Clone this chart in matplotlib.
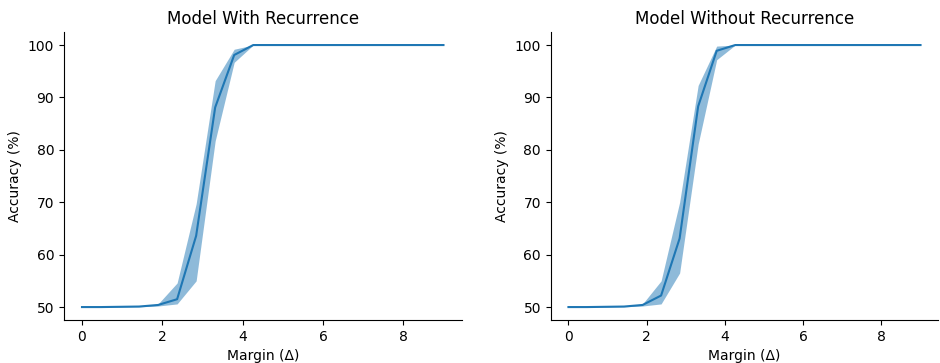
import numpy as np
import matplotlib.pyplot as plt

margin = np.linspace(0, 9, 20)

# model with recurrence
rec_mean = [50.0, 50.0, 50.05, 50.1, 50.4, 51.5, 63.6, 88.1, 98.1, 100] + [100] * 10
rec_low = [50.0, 50.0, 50.0, 50.05, 50.2, 50.6, 55.0, 81.7, 96.7, 100] + [100] * 10
rec_high = [50.0, 50.0, 50.1, 50.15, 50.6, 54.6, 69.7, 93.2, 99.2, 100] + [100] * 10

# model without recurrence
norec_mean = [50.0, 50.0, 50.05, 50.1, 50.4, 52.2, 63.1, 88.3, 98.9, 100] + [100] * 10
norec_low = [50.0, 50.0, 50.0, 50.05, 50.2, 50.6, 56.5, 81.1, 97.2, 100] + [100] * 10
norec_high = [50.0, 50.0, 50.1, 50.15, 50.6, 55.0, 70.0, 92.3, 99.8, 100] + [100] * 10

fig = plt.figure(figsize=(9.4, 3.63), dpi=100)
ax1 = fig.add_axes([0.068, 0.118, 0.423, 0.794])
ax2 = fig.add_axes([0.586, 0.118, 0.412, 0.794])

panels = [
    (ax1, 'Model With Recurrence', rec_mean, rec_low, rec_high),
    (ax2, 'Model Without Recurrence', norec_mean, norec_low, norec_high),
]
for ax, title, mean, low, high in panels:
    ax.fill_between(margin, low, high, color='C0', alpha=0.5, linewidth=0)
    ax.plot(margin, mean, color='C0', linewidth=1.5)
    ax.set_title(title)
    ax.set_xlabel('Margin (Δ)')
    ax.set_ylabel('Accuracy (%)')
    ax.set_xticks([0, 2, 4, 6, 8])
    ax.set_yticks([50, 60, 70, 80, 90, 100])
    ax.spines['top'].set_visible(False)
    ax.spines['right'].set_visible(False)

plt.savefig('out.png', dpi=100)
